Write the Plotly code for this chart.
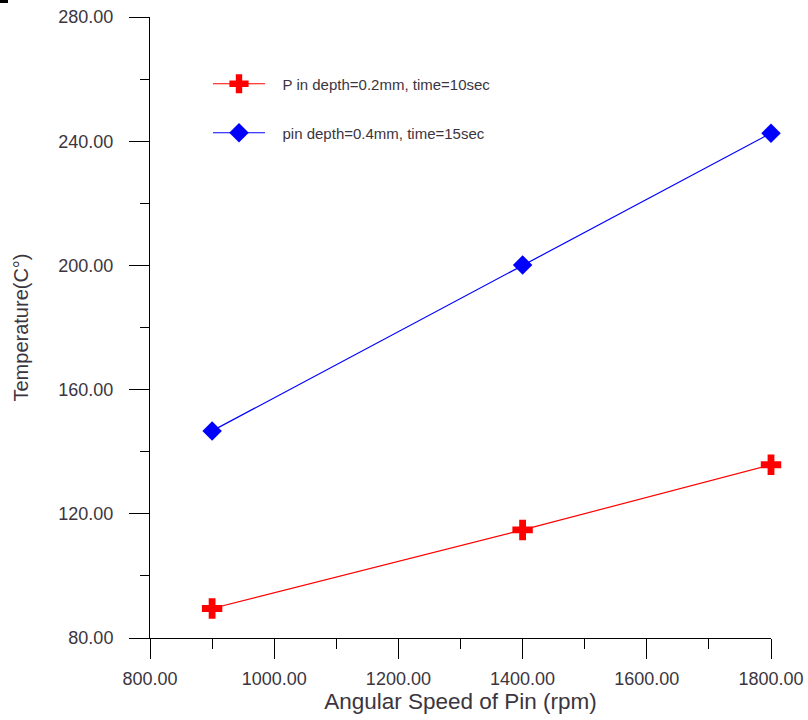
import plotly.graph_objects as go

# Angular speed of the pin (rpm)
speeds = [900, 1400, 1800]

# Peak temperature (°C) for each pin depth / dwell time setting
temp_shallow = [89.5, 114.8, 135.8]   # Pin depth = 0.2 mm, 10 s
temp_deep = [146.7, 200.1, 242.6]     # pin depth = 0.4 mm, 15 s

# leading non-breaking spaces widen the gap between legend symbol and text
pad = "\u00a0\u00a0\u00a0"
name_shallow = pad + "P in depth=0.2mm, time=10sec"
name_deep = pad + "pin depth=0.4mm, time=15sec"

x_ticks = [800, 1000, 1200, 1400, 1600, 1800]
y_ticks = [80, 120, 160, 200, 240, 280]

label_color = "#3b3540"
base_family = "Liberation Sans, Arial, sans-serif"
tick_font = dict(family=base_family, size=18, color=label_color)

# plot area geometry in pixels
L, R, T, B = 150, 37, 17, 82
PW, PH = 808 - L - R, 720 - T - B

fig = go.Figure()

fig.add_trace(go.Scatter(
    x=speeds, y=temp_shallow, name=name_shallow, mode="lines+markers",
    line=dict(color="#ff0000", width=1.2),
    marker=dict(symbol="cross", size=17, color="#ff0000", line=dict(width=0)),
    cliponaxis=False, legend="legend",
))
fig.add_trace(go.Scatter(
    x=speeds, y=temp_deep, name=name_deep, mode="lines+markers",
    line=dict(color="#0000ff", width=1.2),
    marker=dict(symbol="diamond", size=15, color="#0000ff", line=dict(width=0)),
    cliponaxis=False, legend="legend2",
))

legend_common = dict(
    bgcolor="rgba(0,0,0,0)", borderwidth=0,
    font=dict(family=base_family, size=15, color=label_color),
    xanchor="left", yanchor="middle", itemwidth=52,
)

fig.update_layout(
    template="none",
    width=808, height=720,
    margin=dict(l=L, r=R, t=T, b=B, autoexpand=False),
    paper_bgcolor="white", plot_bgcolor="white",
    showlegend=True,
    legend=dict(x=(208 - L) / PW, y=1 - (84 - T) / PH, **legend_common),
    legend2=dict(x=(208 - L) / PW, y=1 - (133 - T) / PH, **legend_common),
    xaxis=dict(
        automargin=False,
        range=[800, 1800], tickvals=x_ticks,
        ticktext=[f"{v:.2f}" for v in x_ticks],
        showgrid=False, zeroline=False,
        showline=True, linecolor="black", linewidth=1,
        ticks="outside", ticklen=20, tickwidth=1, tickcolor="black",
        minor=dict(dtick=100, tick0=800, ticks="outside", ticklen=10,
                   tickwidth=1, tickcolor="black", showgrid=False),
        tickfont=tick_font, ticklabelstandoff=4,
        title=dict(text="Angular Speed of Pin (rpm)",
                   font=dict(family=base_family, size=22.5, color=label_color),
                   standoff=4),
    ),
    yaxis=dict(
        automargin=False,
        range=[80, 280], tickvals=y_ticks,
        ticktext=[f"{v:.2f}" for v in y_ticks],
        showgrid=False, zeroline=False,
        showline=True, linecolor="black", linewidth=1,
        ticks="outside", ticklen=20, tickwidth=1, tickcolor="black",
        minor=dict(dtick=20, tick0=80, ticks="outside", ticklen=9,
                   tickwidth=1, tickcolor="black", showgrid=False),
        tickfont=tick_font, ticklabelstandoff=12,
        title=dict(text="Temperature(C°)",
                   font=dict(family=base_family, size=20, color=label_color),
                   standoff=24),
    ),
)

# small dark bar in the top-left corner of the page
fig.add_shape(type="rect", xref="paper", yref="paper",
              x0=-L / PW, x1=(8 - L) / PW, y0=1 + T / PH, y1=1 + (T - 3) / PH,
              fillcolor="black", line=dict(width=0))

fig.write_html("out.html")
